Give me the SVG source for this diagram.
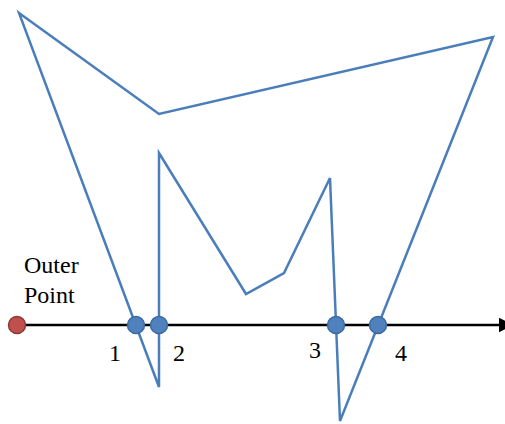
<svg xmlns="http://www.w3.org/2000/svg" width="505" height="424" viewBox="0 0 505 424">
<style>
.poly{fill:none;stroke:#4a7ebb;stroke-width:2.5;stroke-linejoin:miter}
.axis{stroke:#000;stroke-width:2.5}
.pt{fill:#4f81bd;stroke:#3b6aa0;stroke-width:1.5}
.outer{fill:#c0504d;stroke:#8c3836;stroke-width:1.5}
.lbl{font-family:"Liberation Serif","Times New Roman",serif;font-size:24px;fill:#000}
</style>
<defs>
<marker id="arr" markerWidth="6" markerHeight="6" refX="3" refY="3" orient="auto" markerUnits="strokeWidth">
<path d="M0,0 L6,3 L0,6 z" fill="#000"/>
</marker>
</defs>
<g id="polygon">
<polygon class="poly" points="19,13 159,114 493,37 340,421 330,178 284,273 246,294 159,153 159,387"/>
</g>
<g id="connectors">
<line class="axis" x1="22" y1="325" x2="506" y2="325" marker-end="url(#arr)"/>
</g>
<g id="outer-point">
<circle class="outer" cx="17" cy="325" r="8.5"/>
<text class="lbl" x="24" y="273">Outer</text>
<text class="lbl" x="24" y="303">Point</text>
</g>
<g id="p1"><circle class="pt" cx="136" cy="325" r="8.5"/><text class="lbl" x="109" y="361">1</text></g>
<g id="p2"><circle class="pt" cx="159" cy="325" r="8.5"/><text class="lbl" x="173" y="361">2</text></g>
<g id="p3"><circle class="pt" cx="336" cy="325" r="8.5"/><text class="lbl" x="309" y="358">3</text></g>
<g id="p4"><circle class="pt" cx="378" cy="325" r="8.5"/><text class="lbl" x="395" y="361">4</text></g>
</svg>
